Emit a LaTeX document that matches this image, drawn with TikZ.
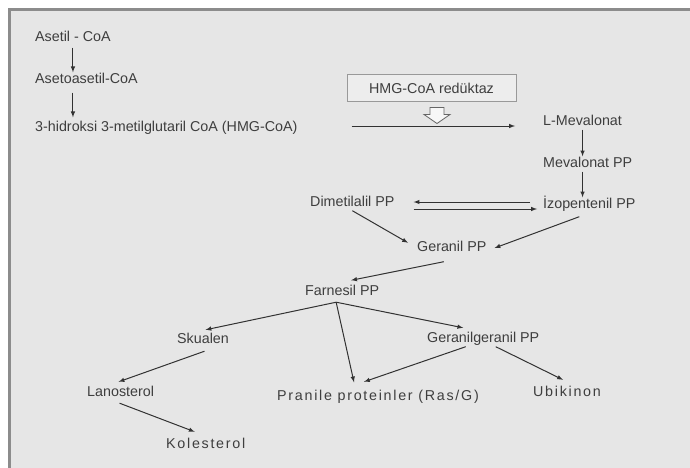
\documentclass[tikz,border=0pt]{standalone}
\usepackage{fontspec}
\setmainfont{Liberation Sans}
\newfontfamily\widefont[LetterSpace=12]{Liberation Sans}
\usepackage{tikz}
\usetikzlibrary{positioning,calc}
\definecolor{mygray}{RGB}{230,230,230}
\definecolor{framegray}{RGB}{140,140,140}
\definecolor{txtgray}{RGB}{62,62,62}
\definecolor{linegray}{RGB}{50,50,50}
\begin{document}
\begin{tikzpicture}[x=1pt,y=1pt,inner sep=1pt]
\tikzstyle{main}=[anchor=west, text=txtgray, font=\fontsize{14.3}{16}\selectfont, text height=10pt, text depth=3pt]
\tikzstyle{wide}=[main, font=\fontsize{14.3}{16}\selectfont\widefont]
\tikzstyle{connect}=[-latex, line width=1pt, draw=linegray]
\tikzstyle{box}=[rectangle, draw=black!40, fill=black!7, line width=1pt, minimum width=169pt, minimum height=27pt, text=txtgray, font=\fontsize{14.3}{16}\selectfont]
\useasboundingbox (0,0) rectangle (690,-468);
\fill[mygray] (8,-8) rectangle (690,-468);
\draw[framegray, line width=3pt] (9.5,-468) -- (9.5,-9.5) -- (690,-9.5);
% left column
\node[main] (aco) at (34,-38) {Asetil - CoA};
\node[main] (aaco) at (34,-80) {Asetoasetil-CoA};
\node[main] (hmg) at (34,-128) {3-hidroksi 3-metilglutaril CoA (HMG-CoA)};
% enzyme
\node[box] (enz) at (431.5,-88.5) {HMG-CoA redüktaz};
\coordinate (ra) at ($(enz.south)+(5.5,-5)$);
\draw[black!60, fill=black!3, line width=0.8pt] (ra) ++(-7,0) -- ++(14,0) -- ++(0,-7) -- ++(6,0) -- ++(-13,-9) -- ++(-13,9) -- ++(6,0) -- cycle;
% mevalonate branch
\node[main] (mev) at (542,-122) {L-Mevalonat};
\node[main] (mevpp) at (542,-164) {Mevalonat PP};
\node[main] (ipp) at (542,-205) {İzopentenil PP};
\node[main] (dmapp) at (309,-203) {Dimetilalil PP};
\node[main] (ger) at (416,-248) {Geranil PP};
\node[main] (far) at (304,-292) {Farnesil PP};
\node[main] (sku) at (176,-340) {Skualen};
\node[main] (ggpp) at (426,-339) {Geranilgeranil PP};
\node[main] (lan) at (86,-393) {Lanosterol};
\node[wide] (pra) at (276,-397) {Pranile proteinler (Ras/G)};
\node[wide] (ubi) at (532,-393) {Ubikinon};
\node[wide] (kol) at (165,-445) {Kolesterol};
\coordinate (fx) at ($(far.south)+(-6,-2.5)$);
% arrows
\path (aco.south) edge[connect,shorten <=2pt] (aco.south |- aaco.north);
\path (aco.south |- aaco.south) edge[connect,shorten <=5pt,shorten >=3pt] (aco.south |- hmg.north);
\path ($(hmg.east)+(53,2)$) edge[connect] ($(hmg.east -| mev.west)+(-27,2)$);
\path (mev.south) edge[connect] (mev.south |- mevpp.north);
\path (mev.south |- mevpp.south) edge[connect] (mev.south |- ipp.north);
\path ($(ipp.west)+(-12,3)$) edge[connect] ($(dmapp.east)+(18,1)$);
\path ($(dmapp.east)+(18,-6)$) edge[connect] ($(ipp.west)+(-5,-4)$);
\path (dmapp.south) edge[connect] ($(ger.north west)+(-8,-2.5)$);
\path ($(ipp.south)+(-10,-4)$) edge[connect] ($(ger.east)+(7,0)$);
\path ($(ger.south)+(-8,-6)$) edge[connect] ($(far.north)+(9,4)$);
\path (fx) edge[connect] ($(sku.north)+(2.5,2.5)$)
           edge[connect] ($(pra.north)+(-24,7)$)
           edge[connect] ($(ggpp.north)+(-20,3.5)$);
\path ($(sku.south)+(1.5,-3.5)$) edge[connect] ($(lan.north)+(-2,3.5)$);
\path ($(lan.south)+(-1,-2.5)$) edge[connect] ($(kol.north)+(-11,5.5)$);
\path ($(ggpp.south)+(-17.5,0)$) edge[connect] ($(pra.north)+(-14,7.5)$);
\path ($(ggpp.south)+(12.5,0)$) edge[connect] ($(ubi.north)+(-4,5.5)$);
\end{tikzpicture}
\end{document}
